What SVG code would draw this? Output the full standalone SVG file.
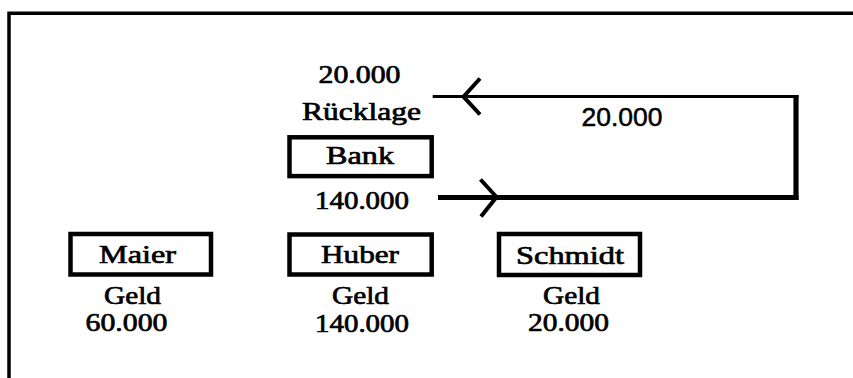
<svg xmlns="http://www.w3.org/2000/svg" width="853" height="378" viewBox="0 0 853 378">
<style>
.box{fill:#fff;stroke:#000;stroke-width:4.5}
.t{font-family:"Liberation Serif","Times New Roman",serif;font-weight:normal;font-size:26px;fill:#000;stroke:#000;stroke-width:0.7;text-anchor:middle}
.s{font-family:"Liberation Sans",Arial,sans-serif;font-size:26px;fill:#000;stroke:#000;stroke-width:0.5;text-anchor:middle}
.ln{fill:none;stroke:#000;stroke-linecap:butt}
</style>
<rect x="0" y="0" width="853" height="378" fill="#fff"/>
<g id="frame">
<path d="M9,378 V13.3 H853" fill="none" stroke="#000" stroke-width="3.5"/>
</g>
<g id="bank">
<text class="t" x="359.5" y="83" textLength="82" lengthAdjust="spacingAndGlyphs">20.000</text>
<text class="t" x="361.5" y="120" textLength="119" lengthAdjust="spacingAndGlyphs">Rücklage</text>
<rect class="box" x="289.5" y="137.3" width="142.2" height="38.8"/>
<text class="t" x="360" y="163.5" textLength="68" lengthAdjust="spacingAndGlyphs">Bank</text>
<text class="t" x="362" y="208.5" textLength="94" lengthAdjust="spacingAndGlyphs">140.000</text>
</g>
<g id="maier">
<rect class="box" x="70.5" y="234" width="140.5" height="40.5"/>
<text class="t" x="137.5" y="263" textLength="77" lengthAdjust="spacingAndGlyphs">Maier</text>
<text class="t" x="132.5" y="304" textLength="57" lengthAdjust="spacingAndGlyphs">Geld</text>
<text class="t" x="126.5" y="330.5" textLength="82" lengthAdjust="spacingAndGlyphs">60.000</text>
</g>
<g id="huber">
<rect class="box" x="289.5" y="234.5" width="142.2" height="40"/>
<text class="t" x="360" y="263" textLength="78" lengthAdjust="spacingAndGlyphs">Huber</text>
<text class="t" x="360.5" y="304" textLength="57" lengthAdjust="spacingAndGlyphs">Geld</text>
<text class="t" x="362" y="331.5" textLength="94" lengthAdjust="spacingAndGlyphs">140.000</text>
</g>
<g id="schmidt">
<rect class="box" x="499" y="234" width="141" height="41"/>
<text class="t" x="570" y="264" textLength="108" lengthAdjust="spacingAndGlyphs">Schmidt</text>
<text class="t" x="571.5" y="304" textLength="57" lengthAdjust="spacingAndGlyphs">Geld</text>
<text class="t" x="568.5" y="331" textLength="81" lengthAdjust="spacingAndGlyphs">20.000</text>
</g>
<g id="connectors">
<line class="ln" x1="432.7" y1="96.5" x2="798.5" y2="96.5" stroke-width="3.2"/>
<line class="ln" x1="796" y1="95" x2="796" y2="200" stroke-width="5.2"/>
<line class="ln" x1="438" y1="197.5" x2="798.5" y2="197.5" stroke-width="5"/>
<polyline class="ln" points="480,78.5 463.5,96.7 480,114.5" stroke-width="4"/>
<polyline class="ln" points="480.5,179.5 496.5,197 481,216.5" stroke-width="4"/>
<text class="s" x="622" y="125.5" textLength="81" lengthAdjust="spacingAndGlyphs">20.000</text>
</g>
</svg>
